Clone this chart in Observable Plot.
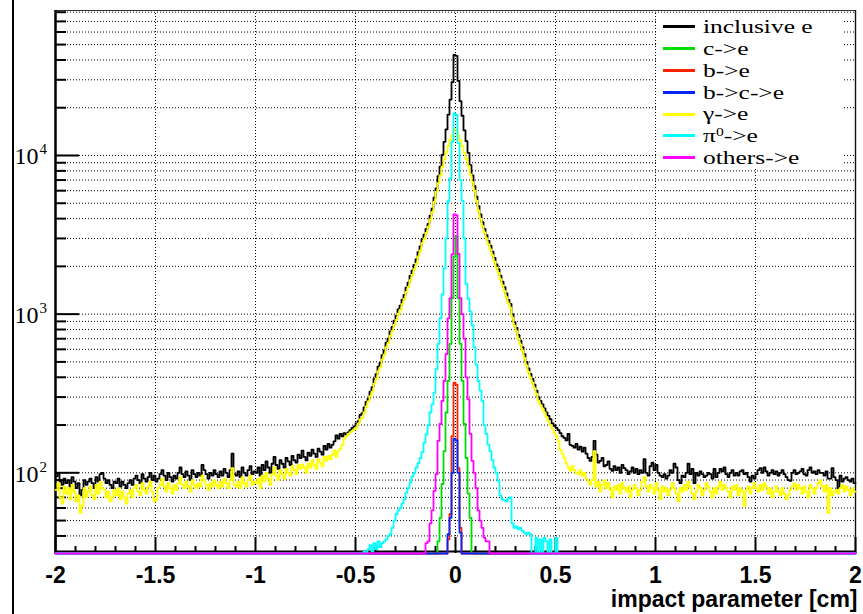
<!DOCTYPE html>
<html><head><meta charset="utf-8">
<script src="https://cdn.jsdelivr.net/npm/d3@7"></script>
<script src="https://cdn.jsdelivr.net/npm/@observablehq/plot@0.6"></script>
<style>
html,body{margin:0;padding:0;background:#fff;}
#wrap{position:relative;width:863px;height:614px;overflow:hidden;background:#fff;}
#wrap svg{position:absolute;left:0;top:0;}
#edge{position:absolute;left:12px;top:0;width:1.5px;height:614px;background:#000;}
#legend{position:absolute;left:657px;top:13px;width:186px;height:155px;background:#fff;color:#000;}
.row{position:absolute;left:0;width:186px;height:21.8px;}
.swatch{position:absolute;left:6px;top:9.4px;width:32px;height:3px;}
.lab{position:absolute;display:block;left:46px;top:0;height:21.8px;line-height:21.8px;white-space:nowrap;overflow:visible;font-family:"Liberation Serif","Times New Roman",serif;font-size:19.6px;transform:scaleX(1.3);transform-origin:0 50%;}
.lab sup{font-size:12px;vertical-align:6px;line-height:0;}
</style></head><body><div id="wrap"><div id="edge"></div></div>
<script>
// ---- data (bin width 0.01 cm, 400 bins from -2 to 2) ----
const binWidth = 0.01;
const xMin = -2, xMax = 2;
const yMin = 31, yMax = 82000;

const seriesNames = ["inclusive e", "c->e", "b->e", "b->c->e", "γ->e", "π0->e", "others->e"];
const seriesColors = ["#000000", "#00dd00", "#ff2200", "#0026ff", "#ffff00", "#00ffff", "#ff00ff"];

const xTickValues = [-2, -1.5, -1, -0.5, 0, 0.5, 1, 1.5, 2];
const yTickValues = [100, 1000, 10000];
const xTitle = "impact parameter [cm]";

const inclusive = [
95,100,88,84,92,86,90,82,94,88,
80,86,72,78,90,84,88,92,86,80,
94,88,98,100,92,86,90,84,80,88,
86,92,82,88,84,80,86,90,84,92,
96,90,86,98,92,88,94,100,90,96,
88,92,98,104,96,90,100,94,88,96,
92,100,108,98,94,102,96,90,104,98,
94,100,96,112,104,98,92,100,96,104,
98,94,102,96,106,100,94,104,132,98,
96,102,94,108,100,96,104,110,98,102,
100,108,96,112,104,118,108,100,114,126,
112,106,120,114,108,124,118,112,128,120,
116,130,124,138,126,120,134,128,140,132,
126,142,136,130,148,140,152,144,150,158,
172,164,176,170,178,174,180,186,192,196,
205,212,232,238,258,280,292,325,346,390,
418,466,492,552,590,660,700,778,832,910,
980,1070,1130,1230,1320,1470,1580,1740,1880,2040,
2210,2460,2670,2980,3170,3440,3710,4170,4630,5420,
6200,7400,8500,10100,12200,14600,18100,22500,29000,43000,
42500,29500,22000,17800,14400,12300,10400,8700,7500,6400,
5500,4800,4250,3800,3450,3150,2900,2700,2480,2260,
2060,1920,1750,1600,1480,1350,1230,1160,1000,890,
820,740,680,620,560,500,455,420,390,360,
330,300,284,270,255,240,228,218,205,198,
192,186,178,170,166,160,176,150,148,144,
152,140,146,136,144,132,124,119,126,159,
130,116,119,124,110,112,118,106,103,110,
104,108,100,112,107,104,98,102,108,100,
106,98,104,100,122,100,96,110,116,104,
112,100,96,94,98,92,96,104,100,114,
108,90,86,96,94,100,114,98,106,86,
100,96,102,98,94,96,100,98,92,106,
94,100,106,102,108,98,94,100,104,96,
100,96,102,104,98,100,94,88,96,92,
98,104,107,100,108,102,96,100,104,98,
102,96,100,104,98,94,90,89,100,104,
98,100,102,106,98,96,104,108,100,102,
98,104,100,100,96,102,92,92,107,94,
90,80,96,88,92,94,90,88,92,86
];

const gammaE = [
78,86,70,64,82,74,80,68,84,76,
66,72,56,62,80,70,76,82,72,68,
84,74,88,80,78,70,76,66,70,78,
72,80,68,76,70,64,74,78,70,80,
84,76,72,86,78,74,82,88,76,66,
68,80,84,92,82,76,86,80,74,84,
78,86,94,84,80,88,82,76,90,84,
80,86,82,96,90,84,78,86,82,90,
84,80,88,82,92,86,80,90,107,84,
82,88,80,94,86,82,90,96,84,88,
86,92,80,96,88,100,92,84,98,108,
96,90,104,98,92,106,100,96,110,104,
98,112,106,113,108,100,114,108,120,112,
106,122,116,110,126,119,128,122,130,138,
126,137,142,150,164,170,176,180,184,188,
193,204,217,222,240,262,282,304,325,365,
393,438,462,519,555,620,658,731,782,855,
921,1006,1062,1156,1241,1382,1485,1636,1767,1918,
2080,2310,2510,2800,2990,3250,3550,3950,4400,5100,
5900,6700,7500,8500,9500,10500,11500,12500,13500,14600,
14500,13400,12400,11500,10400,9500,8600,7600,6800,6000,
5200,4500,4000,3600,3280,3000,2750,2560,2350,2140,
1960,1820,1660,1520,1400,1280,1170,1100,950,845,
780,700,645,590,530,475,432,400,370,342,
314,285,268,255,240,225,212,200,190,180,
170,158,140,132,124,115,108,103,110,104,
100,98,104,96,100,92,88,84,90,137,
82,88,76,84,90,80,86,78,70,82,
78,84,74,86,80,76,82,70,78,84,
80,72,78,88,94,82,76,84,80,74,
86,78,68,82,76,80,72,78,86,80,
74,66,80,76,84,78,88,82,74,68,
76,84,80,72,78,86,82,76,70,80,
74,82,88,78,84,80,76,70,82,78,
84,72,80,76,62,78,82,74,80,86,
80,76,84,78,86,82,74,80,70,76,
82,76,72,80,74,68,72,78,82,86,
78,84,80,74,82,76,70,84,80,74,
80,86,90,82,76,84,56,80,72,76,
78,74,80,84,76,82,78,72,80,76
];

// narrow histograms: first bin's low edge, then contents
const cStart = -0.09;
const cToE = [37,52,85,137,240,380,650,1260,2300,3100,1260,650,380,203,124,74,52];
const bStart = -0.04;
const bToE = [38,55,170,370,360,107,45];
const bcStart = -0.04;
const bcToE = [41,52,100,164,160,100,42];
const piStart = -0.46;
const piZeroE = [
32,0,33,35,32,36,33,37,34,36,37,38,40,41,45,50,55,58,60,64,
68,75,80,87,95,100,108,115,124,135,155,175,200,240,270,320,450,650,944,1330,
1940,3000,5150,7160,12200,18400,
18000,12000,7000,5200,3000,1550,1250,1040,850,620,480,380,330,284,200,176,150,137,120,108,
100,89,72,68,67,66,69,70,48,45,46,44,45,43,42,41,42,41,0,0,39,0,38,0,39,37,0,38,0,0,39,0
];
const othersStart = -0.15;
const othersE = [36,37,48,58,77,98,159,203,284,380,560,940,1260,2380,4260,
4200,2400,1260,1000,700,400,290,176,119,100,80,58,50,45,39,37,37];

// ---- build tables ----
const nBins = Math.round((xMax - xMin) / binWidth);
function fullBins(values, start) {
  const out = new Array(nBins).fill(0);
  const i0 = Math.round((start - xMin) / binWidth);
  values.forEach((v, j) => { out[i0 + j] = v; });
  return out;
}
function steps(arr) {
  const pts = arr.map((v, i) => ({x: xMin + i * binWidth, v: Math.max(v, yMin)}));
  pts.push({x: xMax, v: Math.max(arr[arr.length - 1], yMin)});
  return pts;
}
const seriesBins = [
  inclusive,
  fullBins(cToE, cStart),
  fullBins(bToE, bStart),
  fullBins(bcToE, bcStart),
  gammaE,
  fullBins(piZeroE, piStart),
  fullBins(othersE, othersStart)
];

const yGrid = [];
for (let e = 1; e <= 4; e++) for (let m = 1; m <= 9; m++) {
  const v = m * Math.pow(10, e);
  if (v > yMin && v < yMax) yGrid.push(v);
}
const yMinorTicks = yGrid.filter(v => !yTickValues.includes(v));
const xMinorTicks = d3.range(-19, 20).map(k => k / 10).filter(v => !xTickValues.some(t => Math.abs(t - v) < 1e-9));
const xGrid = xTickValues.filter(v => v > xMin && v < xMax);

const W = 863, H = 614, mL = 55, mR = 8, mT = 10, mB = 61;
const frameW = W - mL - mR, frameH = H - mT - mB;

const lineMarks = seriesBins.map((arr, k) =>
  Plot.line(steps(arr), {x: "x", y: "v", stroke: seriesColors[k], strokeWidth: 1.8, curve: "step-after"})
);

const chart = Plot.plot({
  width: W, height: H,
  marginLeft: mL, marginRight: mR, marginTop: mT, marginBottom: mB,
  x: {domain: [xMin, xMax], axis: null},
  y: {type: "log", domain: [yMin, yMax], axis: null},
  style: {background: "transparent", overflow: "visible"},
  marks: [
    Plot.ruleY(yGrid, {stroke: "#000", strokeWidth: 1, strokeDasharray: "1,2"}),
    Plot.ruleX(xGrid, {stroke: "#000", strokeWidth: 1, strokeDasharray: "1,2"}),
    // frame: top and right thin, left and bottom heavy
    Plot.ruleY([yMax], {stroke: "#333", strokeWidth: 1.2}),
    Plot.ruleX([xMax], {stroke: "#111", strokeWidth: 1.4}),
    Plot.ruleX([xMin], {stroke: "#000", strokeWidth: 2.5}),
    Plot.ruleY([yMin], {stroke: "#000", strokeWidth: 2, dy: -2}),
    // ticks (inside the frame)
    Plot.ruleX(xTickValues, {stroke: "#000", strokeWidth: 2, insetTop: frameH - 16}),
    Plot.ruleX(xMinorTicks, {stroke: "#000", strokeWidth: 2, insetTop: frameH - 7}),
    Plot.ruleY(yTickValues, {stroke: "#000", strokeWidth: 2, insetRight: frameW - 24}),
    Plot.ruleY(yMinorTicks, {stroke: "#000", strokeWidth: 2, insetRight: frameW - 11}),
    ...lineMarks,
    // x tick labels
    Plot.text(xTickValues, {x: d => d, text: d => String(d), frameAnchor: "bottom", lineAnchor: "bottom", dy: 29,
      fontFamily: "Liberation Sans, Arial, sans-serif", fontWeight: "bold", fontSize: 23, fill: "#000"}),
    // x title
    Plot.text([xTitle], {frameAnchor: "bottom-right", textAnchor: "end", lineAnchor: "bottom", dy: 53, dx: 2,
      fontFamily: "Liberation Sans, Arial, sans-serif", fontWeight: "bold", fontSize: 23, fill: "#000"}),
    // y tick labels 10^n
    Plot.text(yTickValues, {y: d => d, text: () => "10", frameAnchor: "left", textAnchor: "end", lineAnchor: "bottom",
      dx: -17, dy: 9, fontFamily: "Liberation Serif, Times New Roman, serif", fontSize: 24, fill: "#000"}),
    Plot.text(yTickValues, {y: d => d, text: d => String(Math.round(Math.log10(d))), frameAnchor: "left", textAnchor: "start", lineAnchor: "bottom",
      dx: -16, dy: -1, fontFamily: "Liberation Serif, Times New Roman, serif", fontSize: 15, fill: "#000"})
  ]
});

const wrap = document.getElementById("wrap");
wrap.insertBefore(chart, wrap.firstChild);

// legend
const legend = document.createElement("div");
legend.id = "legend";
const rowH = 21.8, rowTop0 = 3.1;
seriesNames.forEach((name, k) => {
  const row = document.createElement("div");
  row.className = "row";
  row.style.top = (rowTop0 + k * rowH) + "px";
  const sw = document.createElement("div");
  sw.className = "swatch";
  sw.style.background = seriesColors[k];
  const lab = document.createElement("span");
  lab.className = "lab";
  if (name.startsWith("π0")) {
    lab.append("π");
    const s = document.createElement("sup"); s.textContent = "0"; lab.append(s);
    lab.append(name.slice(2));
  } else {
    lab.textContent = name;
  }
  row.append(sw, lab);
  legend.append(row);
});
wrap.append(legend);
</script>
</body></html>
